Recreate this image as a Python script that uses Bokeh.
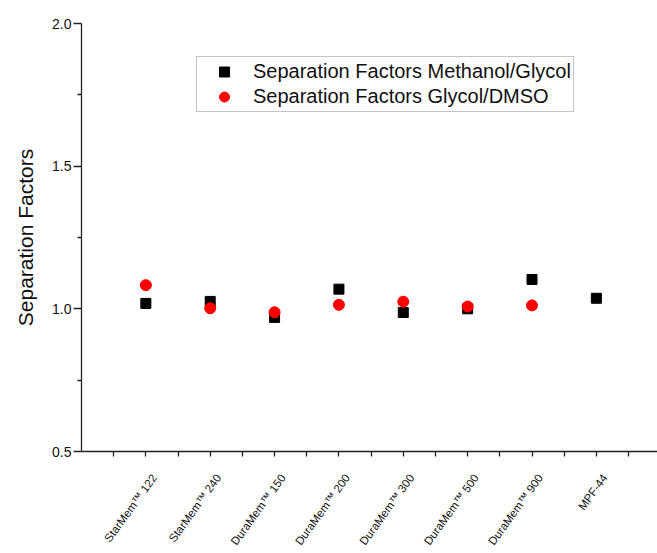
from bokeh.plotting import figure
from bokeh.models import Range1d, FixedTicker, Legend, LegendItem, PrintfTickFormatter
from bokeh.embed import file_html
from bokeh.resources import INLINE
import math

categories = ["StarMem\u2122 122", "StarMem\u2122 240", "DuraMem\u2122 150",
              "DuraMem\u2122 200", "DuraMem\u2122 300", "DuraMem\u2122 500",
              "DuraMem\u2122 900", "MPF-44"]
methanol_glycol = [1.019, 1.026, 0.970, 1.069, 0.987, 1.000, 1.103, 1.037]
glycol_dmso = [1.083, 1.002, 0.988, 1.014, 1.025, 1.008, 1.012]
y_ticks = [0.5, 1.0, 1.5, 2.0]
y_minor = [0.75, 1.25, 1.75]

x_pos = list(range(1, len(categories) + 1))
FONT = "Liberation Sans"
LABEL_SHIFT = 0.13  # label anchor shift (data units) so the rotated text ends at its tick

p = figure(width=657, height=553, output_backend="svg", toolbar_location=None,
           x_range=Range1d(0, 8.95), y_range=Range1d(0.5, 2.0),
           min_border_left=81, min_border_right=0, min_border_top=23,
           min_border_bottom=102)
p.outline_line_color = None
p.xgrid.visible = False
p.ygrid.visible = False
p.background_fill_color = "white"
p.border_fill_color = "white"

# x axis: labels at shifted (invisible) major ticks, tick marks as minor ticks
label_ticks = [x + LABEL_SHIFT for x in x_pos]
tick_marks = [x * 0.5 for x in range(1, 2 * len(categories) + 2)]
p.xaxis.ticker = FixedTicker(ticks=label_ticks, minor_ticks=tick_marks)
p.xaxis.major_label_overrides = {t: name for t, name in zip(label_ticks, categories)}
p.xaxis.major_label_orientation = math.radians(54)
p.xaxis.major_label_text_font = FONT
p.xaxis.major_label_text_font_size = "11.5px"
p.xaxis.major_label_text_color = "#111111"
p.xaxis.major_label_standoff = 19
p.xaxis.major_tick_line_color = None
p.xaxis.major_tick_out = 0
p.xaxis.major_tick_in = 0
p.xaxis.minor_tick_out = 5
p.xaxis.minor_tick_in = 0

p.yaxis.ticker = FixedTicker(ticks=y_ticks, minor_ticks=y_minor)
p.yaxis.formatter = PrintfTickFormatter(format="%.1f")
p.yaxis.major_tick_out = 8
p.yaxis.major_tick_in = 0
p.yaxis.minor_tick_out = 4
p.yaxis.minor_tick_in = 0
p.yaxis.major_label_standoff = 2
p.yaxis.major_label_text_font = FONT
p.yaxis.major_label_text_font_size = "14px"
p.yaxis.major_label_text_color = "#111111"
p.yaxis.axis_label = "Separation Factors"
p.yaxis.axis_label_text_font = FONT
p.yaxis.axis_label_text_font_size = "21px"
p.yaxis.axis_label_text_font_style = "normal"
p.yaxis.axis_label_text_color = "#111111"
p.yaxis.axis_label_standoff = 12
for ax in (p.xaxis, p.yaxis):
    ax.axis_line_color = "#222222"
    ax.axis_line_width = 1.3
    ax.minor_tick_line_color = "#222222"
    ax.minor_tick_line_width = 1.3
p.yaxis.major_tick_line_color = "#222222"
p.yaxis.major_tick_line_width = 1.3

r1 = p.scatter(x_pos, methanol_glycol, marker="square", size=10,
               fill_color="black", line_color="black")
r2 = p.scatter(x_pos[:len(glycol_dmso)], glycol_dmso, marker="circle", size=11,
               fill_color="#ff0000", line_color="#ff0000")

legend = Legend(items=[
    LegendItem(label="Separation Factors Methanol/Glycol", renderers=[r1]),
    LegendItem(label="Separation Factors Glycol/DMSO", renderers=[r2]),
], orientation="vertical")
legend.location = (115, 339)
legend.label_text_font = FONT
legend.label_text_font_size = "20px"
legend.label_text_color = "#111111"
legend.padding = 2
legend.margin = 0
legend.spacing = 0
legend.glyph_width = 50
legend.glyph_height = 25
legend.label_height = 25
legend.label_standoff = 4
legend.border_line_color = "#888888"
legend.border_line_width = 1
legend.background_fill_alpha = 1
p.add_layout(legend)

open("out.html", "w").write(file_html(p, INLINE))
